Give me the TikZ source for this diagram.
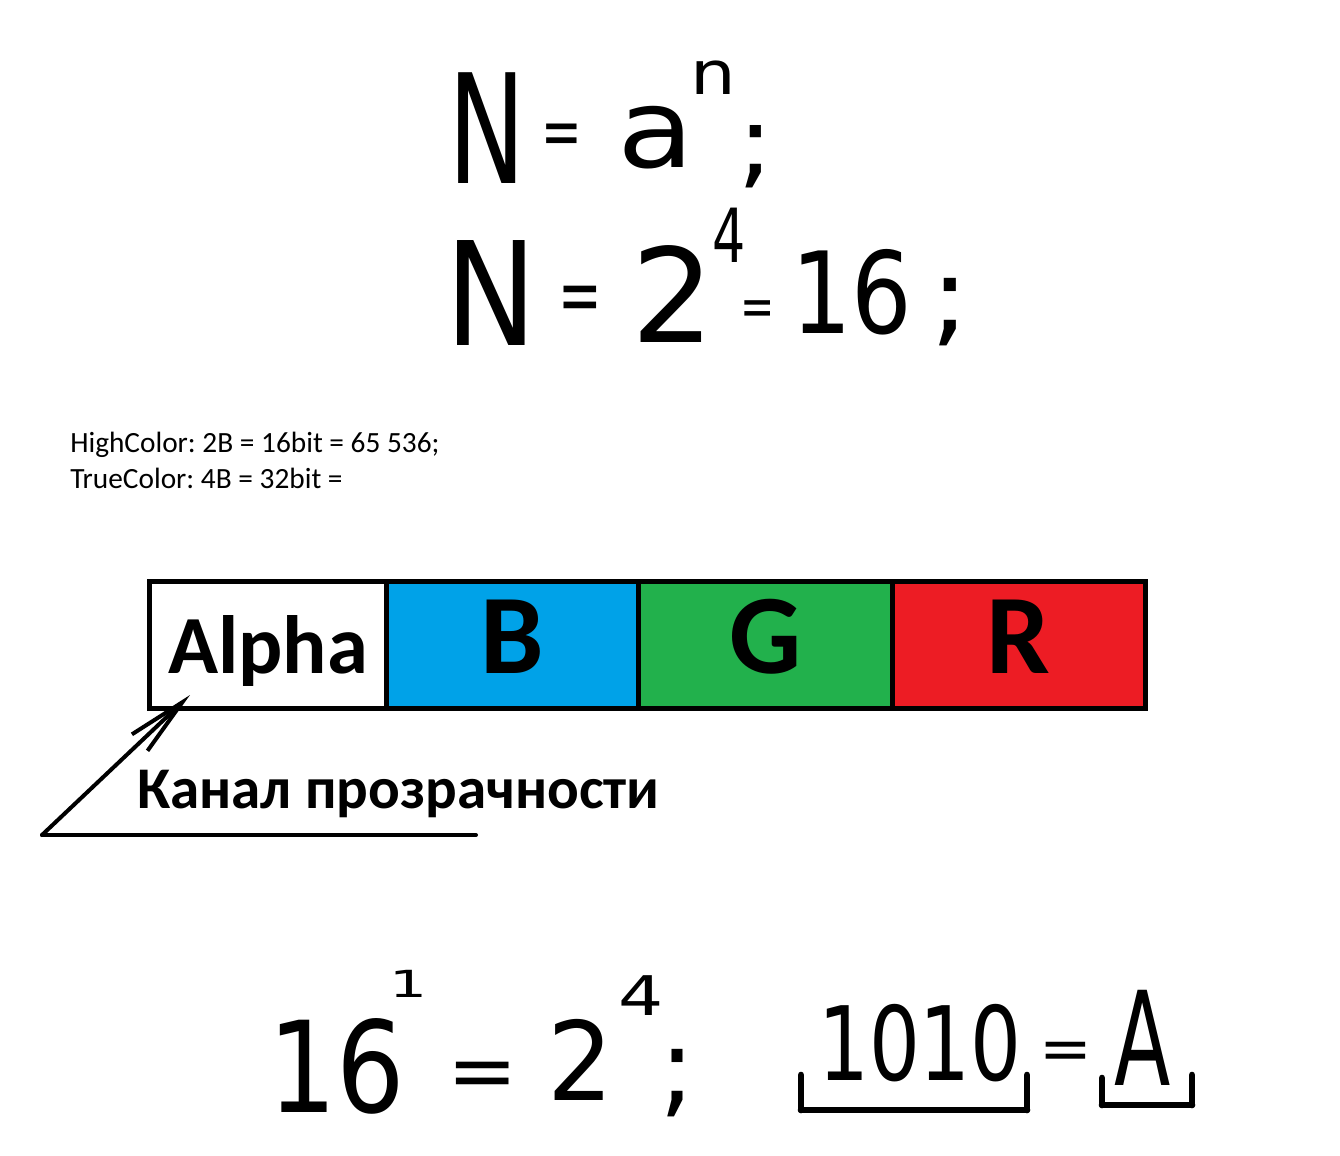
\documentclass[tikz,border=0pt]{standalone}
\usepackage{fontspec}
\setmainfont{Carlito}
\newfontfamily\handfont{DejaVu Sans}
\usepackage{tkz-euclide}
\usetikzlibrary{arrows.meta}

\definecolor{paintblue}{HTML}{00A2E8}
\definecolor{paintgreen}{HTML}{22B14C}
\definecolor{paintred}{HTML}{ED1C24}

\tikzset{
  handtext/.style 2 args={font=\handfont\fontsize{#1}{#1}\selectfont,
    xscale=#2, transform shape, inner sep=0pt, anchor=base},
  printtext/.style={font=\frenchspacing\fontsize{22pt}{27pt}\selectfont, inner sep=0pt, anchor=base west},
  cellbox/.style={draw=black, line width=3.75pt, minimum height=95pt, inner sep=0pt, outer sep=0pt,
    text height=42pt, text depth=0pt, font=\bfseries\fontsize{#1}{#1}\selectfont},
  handline/.style={line width=#1, line cap=round, line join=round}
}

\begin{document}
\begin{tikzpicture}[x=0.75pt,y=-0.75pt]

% =========================
% PAGE
% =========================

\fill[white] (0,0) rectangle (1340,1156);
\useasboundingbox (0,0) rectangle (1340,1156);

% =========================
% N = a^n ;
% =========================

\node[handtext={114pt}{0.68}] (nA) at (487,183) {N};
\node[handtext={52pt}{0.7}] (eqA) at (562,156) {=};
\node[handtext={82pt}{1.15}] (aA) at (656,167) {a};
\node[handtext={45pt}{1.2}] (expA) at (713,95) {n};
\node[handtext={74pt}{1.1}] (semiA) at (756,176) {;};

% =========================
% N = 2^4 = 16 ;
% =========================

\node[handtext={108pt}{0.85}] (nB) at (491,345) {N};
\node[handtext={60pt}{0.65}] (eqB) at (580,322) {=};
\node[handtext={98pt}{1}] (twoB) at (673,342) {2};
\node[handtext={56pt}{0.7}] (expB) at (729,262) {4};
\node[handtext={41pt}{0.75}] (eqBB) at (758,325) {=};
\node[handtext={85pt}{0.84}] (sixteenB) at (852,333) {16};
\node[handtext={80pt}{1.1}] (semiB) at (950,333) {;};

% =========================
% HIGHCOLOR / TRUECOLOR
% =========================

\node[printtext] (high) at (70,452) {HighColor: 2B = 16bit = 65 536;};
\node[printtext] (true) at (70,488) {TrueColor: 4B = 32bit =};

% =========================
% CHANNELS
% =========================

\node[cellbox=62pt, fill=white, minimum width=178pt] (alpha) at (268,645) {Alpha};
\node[cellbox=85pt, fill=paintblue, minimum width=189pt, anchor=west] (blue) at (alpha.east) {B};
\node[cellbox=85pt, fill=paintgreen, minimum width=190pt, anchor=west] (green) at (blue.east) {G};
\node[cellbox=85pt, fill=paintred, minimum width=190pt, anchor=west] (red) at (green.east) {R};

% =========================
% ARROW
% =========================

\node[font=\bfseries\fontsize{44.3pt}{50pt}\selectfont, inner sep=0pt, anchor=base west] (transp) at (137,808) {Канал прозрачности};

\tkzDefPoint(42,835){O}
\tkzDefPoint(190,695){T}
\tkzDefPoint(476,835){U}

\tkzDrawSegment[handline=3pt, -{Straight Barb[length=44pt,width=17pt,line width=3pt]}](O,T)
\tkzDrawSegment[handline=3pt](O,U)

% =========================
% 16^1 = 2^4 ; 1010 = A
% =========================

\node[handtext={95pt}{0.85}] (sixteenC) at (337,1112) {16};
\node[handtext={28pt}{1.6}] (expC) at (408,997) {1};
\node[handtext={60pt}{1.05}] (eqC) at (483,1098) {=};
\node[handtext={82pt}{0.95}] (twoC) at (581,1100) {2};
\node[handtext={41pt}{1.3}] (expCC) at (641,1015) {4};
\node[handtext={80pt}{1}] (semiC) at (677,1104) {;};
\node[handtext={77pt}{0.78}] (bin) at (920,1080) {1010};
\node[handtext={45pt}{1.05}] (eqCC) at (1066,1069) {=};
\node[handtext={98pt}{0.63}] (hexA) at (1143,1085) {A};

\tkzDefPoint(801,1075){P}
\tkzDefPoint(801,1110){Q}
\tkzDefPoint(1027,1110){R}
\tkzDefPoint(1027,1075){S}
\tkzDefPoint(1102,1078){K}
\tkzDefPoint(1102,1105){L}
\tkzDefPoint(1192,1105){M}
\tkzDefPoint(1192,1075){V}

\tkzDrawSegments[handline=5pt](P,Q Q,R R,S)
\tkzDrawSegments[handline=5pt](K,L L,M M,V)
\end{tikzpicture}
\end{document}
